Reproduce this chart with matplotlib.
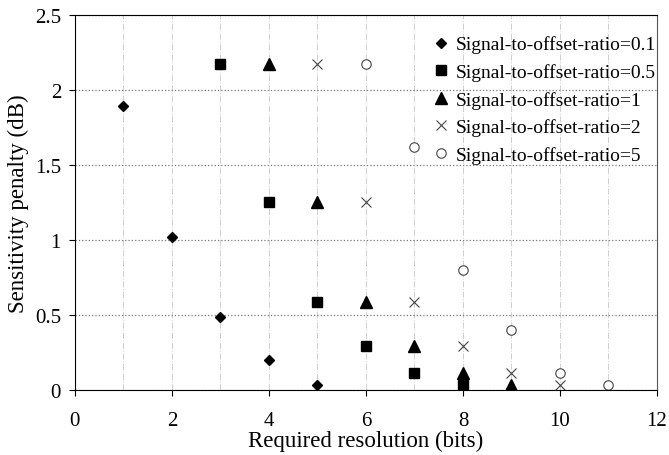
import numpy as np
import matplotlib.pyplot as plt

plt.rcParams['font.family'] = ['Liberation Serif', 'DejaVu Serif']

# Данные
bits_01 = [1, 2, 3, 4, 5]
pen_01 = [1.89, 1.02, 0.49, 0.20, 0.035]
bits_05 = [3, 4, 5, 6, 7, 8]
pen_05 = [2.17, 1.25, 0.59, 0.295, 0.115, 0.035]
bits_1 = [4, 5, 6, 7, 8, 9]
pen_1 = [2.17, 1.25, 0.59, 0.295, 0.115, 0.035]
bits_2 = [5, 6, 7, 8, 9, 10]
pen_2 = [2.17, 1.25, 0.59, 0.295, 0.115, 0.035]
bits_5 = [6, 7, 8, 9, 10, 11]
pen_5 = [2.17, 1.62, 0.80, 0.40, 0.115, 0.035]

fig = plt.figure(figsize=(6.69, 4.56), dpi=100)
ax = fig.add_axes([0.112, 0.1425, 0.870, 0.8225])

ax.plot(bits_01, pen_01, 'D', color='black', ms=5.6, ls='none', label='Signal-to-offset-ratio=0.1')
ax.plot(bits_05, pen_05, 's', color='black', ms=7.5, ls='none', label='Signal-to-offset-ratio=0.5')
ax.plot(bits_1, pen_1, '^', color='black', ms=8, ls='none', label='Signal-to-offset-ratio=1')
ax.plot(bits_2, pen_2, 'x', color='#444444', ms=7.2, mew=0.8, ls='none', label='Signal-to-offset-ratio=2')
ax.plot(bits_5, pen_5, 'o', mfc='white', mec='#444444', ms=6.8, mew=0.8, ls='none', label='Signal-to-offset-ratio=5')

ax.set_xlim(0, 12)
ax.set_ylim(0, 2.5)
ax.set_xticks(np.arange(0, 13, 2))
ax.set_xticks(np.arange(1, 12, 2), minor=True)
ax.set_yticks([0, 0.5, 1, 1.5, 2, 2.5])
ax.set_yticklabels(['0', '0.5', '1', '1.5', '2', '2.5'])

ax.grid(axis='x', which='both', color='#d0d0d0', ls='-.', lw=0.7)
ax.grid(axis='y', which='major', color='#777777', ls=':', lw=0.9)
ax.set_axisbelow(True)

ax.tick_params(axis='both', which='major', labelsize=15, direction='out', length=4, width=0.8, pad=6)
ax.tick_params(axis='x', which='major', pad=11)
ax.tick_params(axis='x', which='minor', length=0)
for s in ['left', 'bottom', 'top']:
    ax.spines[s].set_color('black')
ax.spines['right'].set_color('#555555')

ax.set_xlabel('Required resolution (bits)', fontsize=16.5, labelpad=0)
ax.set_ylabel('Sensitivity penalty (dB)', fontsize=16.5, labelpad=4)

ax.legend(loc='upper right', bbox_to_anchor=(1.012, 0.966), frameon=False, fontsize=14,
          handletextpad=0.0, handlelength=1.55, labelspacing=0.5, borderaxespad=0)

fig.savefig('out.png', dpi=100)
